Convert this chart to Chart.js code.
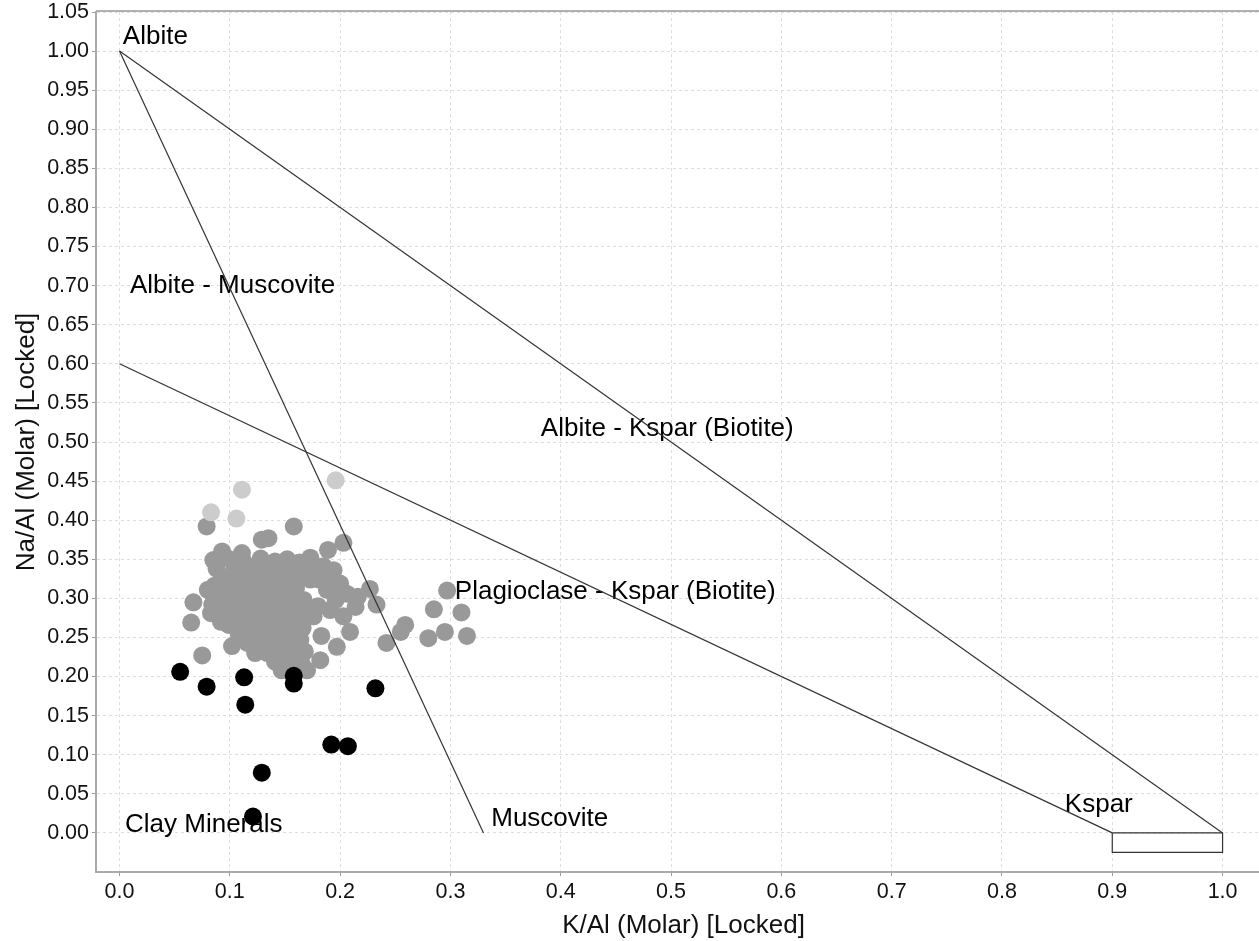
<!DOCTYPE html>
<html>
<head>
<meta charset="utf-8">
<title>Na/Al vs K/Al molar ratio diagram</title>
<script src="https://cdn.jsdelivr.net/npm/chart.js@4.4.1/dist/chart.umd.min.js"></script>
<style>
  html, body { margin: 0; padding: 0; background: #fff; overflow: hidden; }
  #wrap { width: 1259px; height: 941px; overflow: hidden; }
</style>
</head>
<body>
<div id="wrap"><canvas id="ratioChart" width="1271" height="941"></canvas></div>
<script>
// K/Al (x) and Na/Al (y) molar ratios
const greySamples = [
  [0.079, 0.392], [0.158, 0.392], [0.129, 0.375], [0.135, 0.377],
  [0.067, 0.295], [0.065, 0.269], [0.075, 0.227], [0.102, 0.239],
  [0.203, 0.371], [0.189, 0.362], [0.227, 0.312], [0.233, 0.292],
  [0.297, 0.310], [0.285, 0.286], [0.310, 0.282], [0.259, 0.266],
  [0.255, 0.257], [0.295, 0.257], [0.280, 0.249], [0.315, 0.252],
  [0.242, 0.243], [0.183, 0.252], [0.197, 0.238], [0.209, 0.257],
  [0.214, 0.289], [0.216, 0.302], [0.206, 0.306], [0.203, 0.277],
  [0.182, 0.221], [0.170, 0.208], [0.194, 0.336], [0.200, 0.319],
  [0.185, 0.341], [0.173, 0.352], [0.167, 0.298], [0.188, 0.311],
  [0.191, 0.285], [0.176, 0.277], [0.173, 0.324], [0.164, 0.247],
  [0.123, 0.230], [0.147, 0.208], [0.165, 0.217], [0.085, 0.349],
  [0.093, 0.360], [0.111, 0.358], [0.080, 0.311], [0.083, 0.281],
  [0.092, 0.270],
  // dense core
  [0.097, 0.352], [0.112, 0.348], [0.128, 0.351], [0.141, 0.347], [0.152, 0.350], [0.163, 0.346], [0.176, 0.343],
  [0.088, 0.338], [0.104, 0.337], [0.121, 0.340], [0.135, 0.336], [0.148, 0.339], [0.158, 0.335], [0.170, 0.338], [0.183, 0.333],
  [0.095, 0.326], [0.109, 0.328], [0.118, 0.323], [0.132, 0.327], [0.144, 0.325], [0.155, 0.322], [0.165, 0.328], [0.181, 0.324], [0.192, 0.327],
  [0.086, 0.316], [0.100, 0.314], [0.113, 0.318], [0.126, 0.315], [0.139, 0.312], [0.151, 0.317], [0.160, 0.313],
  [0.091, 0.303], [0.104, 0.301], [0.117, 0.305], [0.128, 0.298], [0.138, 0.302], [0.149, 0.306], [0.158, 0.299], [0.196, 0.298],
  [0.084, 0.292], [0.097, 0.289], [0.110, 0.293], [0.122, 0.287], [0.133, 0.291], [0.144, 0.288], [0.153, 0.293], [0.166, 0.286], [0.180, 0.290],
  [0.094, 0.278], [0.106, 0.281], [0.118, 0.276], [0.129, 0.280], [0.140, 0.276], [0.151, 0.279], [0.161, 0.274],
  [0.099, 0.266], [0.112, 0.268], [0.124, 0.264], [0.136, 0.267], [0.146, 0.263], [0.156, 0.268], [0.166, 0.262],
  [0.108, 0.255], [0.119, 0.252], [0.131, 0.256], [0.142, 0.253], [0.153, 0.257], [0.162, 0.252],
  [0.116, 0.243], [0.128, 0.241], [0.139, 0.244], [0.150, 0.240], [0.160, 0.237],
  [0.134, 0.230], [0.145, 0.228], [0.156, 0.226], [0.168, 0.232],
  [0.141, 0.219], [0.153, 0.215]
];
const lightSamples = [[0.111, 0.439], [0.083, 0.410], [0.106, 0.402], [0.196, 0.451]];
const blackSamples = [
  [0.055, 0.206], [0.079, 0.187], [0.113, 0.199], [0.114, 0.164], [0.158, 0.201], [0.158, 0.191],
  [0.232, 0.185], [0.192, 0.113], [0.207, 0.111], [0.129, 0.077], [0.121, 0.021]
];

// reference lines between end-member minerals
const albiteKspar = [[0, 1], [1, 0]];
const albiteMuscovite = [[0, 1], [0.33, 0]];
const plagKspar = [[0, 0.6], [0.9, 0]];
const ksparBox = [[0.9, 0], [1, 0], [1, -0.025], [0.9, -0.025], [0.9, 0]];

const fieldLabels = ['Albite', 'Albite - Muscovite', 'Albite - Kspar (Biotite)', 'Plagioclase - Kspar (Biotite)', 'Muscovite', 'Clay Minerals', 'Kspar'];
const fieldLabelK = [0.003, 0.0095, 0.382, 0.304, 0.337, 0.005, 0.857];
const fieldLabelNa = [1.009, 0.690, 0.508, 0.299, 0.009, 0.001, 0.027];

const xTicks = [0, 0.1, 0.2, 0.3, 0.4, 0.5, 0.6, 0.7, 0.8, 0.9, 1.0];
const yTicks = [0, 0.05, 0.1, 0.15, 0.2, 0.25, 0.3, 0.35, 0.4, 0.45, 0.5, 0.55, 0.6, 0.65, 0.7, 0.75, 0.8, 0.85, 0.9, 0.95, 1.0, 1.05];

const FONT = '"Liberation Sans", Arial, sans-serif';
const toXY = arr => arr.map(p => ({ x: p[0], y: p[1] }));

function pointSet(label, pts, color, order) {
  return {
    label: label,
    data: toXY(pts),
    backgroundColor: color,
    borderWidth: 0,
    pointRadius: 9,
    pointHoverRadius: 9,
    order: order
  };
}

function lineSet(pts) {
  return {
    data: toXY(pts),
    showLine: true,
    borderColor: '#333333',
    borderWidth: 1.2,
    pointRadius: 0,
    fill: false,
    order: 0
  };
}

// frame top edge + field names
const overlay = {
  id: 'overlay',
  beforeDatasetsDraw(chart) {
    const { ctx, scales } = chart;
    ctx.save();
    ctx.fillStyle = '#000';
    ctx.font = '26px ' + FONT;
    ctx.textAlign = 'left';
    ctx.textBaseline = 'alphabetic';
    fieldLabels.forEach((t, i) => {
      ctx.fillText(t, scales.x.getPixelForValue(fieldLabelK[i]), scales.y.getPixelForValue(fieldLabelNa[i]));
    });
    ctx.restore();
  },
  afterDraw(chart) {
    const { ctx, chartArea } = chart;
    ctx.save();
    ctx.strokeStyle = '#b0b0b0';
    ctx.lineWidth = 2;
    ctx.beginPath();
    ctx.moveTo(chartArea.left, chartArea.top - 1);
    ctx.lineTo(chartArea.right, chartArea.top - 1);
    ctx.stroke();
    ctx.restore();
  }
};

new Chart(document.getElementById('ratioChart').getContext('2d'), {
  type: 'scatter',
  data: {
    datasets: [
      lineSet(albiteKspar),
      lineSet(albiteMuscovite),
      lineSet(plagKspar),
      lineSet(ksparBox),
      pointSet('Low Na', blackSamples, '#000000', 1),
      pointSet('High Na', lightSamples, '#cccccc', 2),
      pointSet('Samples', greySamples, '#999999', 3)
    ]
  },
  options: {
    responsive: false,
    animation: false,
    devicePixelRatio: 1,
    layout: { autoPadding: false, padding: { top: 12, right: 0, bottom: 0, left: 0 } },
    plugins: {
      legend: { display: false },
      tooltip: { enabled: false }
    },
    scales: {
      x: {
        type: 'linear',
        min: -0.0213,
        max: 1.0439,
        afterBuildTicks: axis => { axis.ticks = xTicks.map(v => ({ value: v })); },
        afterFit: axis => { axis.height = 69; axis.paddingLeft = 0; axis.paddingRight = 0; },
        ticks: {
          color: '#111',
          font: { family: FONT, size: 21.5 },
          padding: 3,
          maxRotation: 0,
          callback: v => v.toFixed(1)
        },
        grid: { color: '#dedede', tickLength: 4, tickColor: '#999', tickBorderDash: [] },
        border: { display: true, color: '#aaaaaa', width: 2, dash: [3, 3] },
        title: { display: true, text: 'K/Al (Molar) [Locked]', color: '#111', font: { family: FONT, size: 26 }, padding: { top: 0, bottom: 0 } }
      },
      y: {
        type: 'linear',
        min: -0.05,
        max: 1.05,
        afterBuildTicks: axis => { axis.ticks = yTicks.map(v => ({ value: v })); },
        afterFit: axis => { axis.width = 96; axis.paddingTop = 0; axis.paddingBottom = 0; },
        ticks: {
          color: '#111',
          font: { family: FONT, size: 21.5 },
          padding: 3,
          callback: v => v.toFixed(2)
        },
        grid: { color: '#dedede', tickLength: 4, tickColor: '#999', tickBorderDash: [] },
        border: { display: true, color: '#aaaaaa', width: 2, dash: [3, 3] },
        title: { display: true, text: 'Na/Al (Molar) [Locked]', color: '#111', font: { family: FONT, size: 26 }, padding: { top: 11, bottom: 0 } }
      }
    }
  },
  plugins: [overlay]
});
</script>
</body>
</html>
